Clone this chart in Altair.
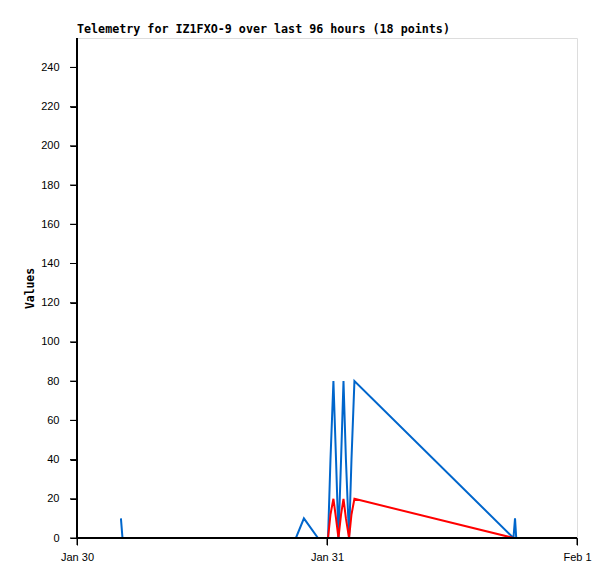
import altair as alt
import pandas as pd

# Timestamps (local time) of the telemetry points
times = [
    "2024-01-30T04:13", "2024-01-30T04:22", "2024-01-30T21:01", "2024-01-30T21:47",
    "2024-01-30T23:08", "2024-01-31T00:06", "2024-01-31T00:20", "2024-01-31T00:37",
    "2024-01-31T00:52", "2024-01-31T01:06", "2024-01-31T01:21", "2024-01-31T01:35",
    "2024-01-31T01:49", "2024-01-31T02:07", "2024-01-31T02:21", "2024-01-31T02:38",
    "2024-01-31T17:54", "2024-01-31T18:03", "2024-01-31T18:10",
]
blue_vals = [10, 0, 0, 10, 0, 0, 40, 80, 40, 0, 40, 80, 40, 0, 40, 80, 0, 10, 0]
red_vals = [0, 0, 0, 0, 0, 0, 12, 20, 10, 0, 12, 20, 10, 0, 12, 20, 0, 0, 0]
black_vals = [0] * len(times)

series_names = ["blue", "red", "black"]
series_colors = ["#0066cc", "#ff0000", "#000000"]
y_ticks = list(range(0, 241, 20))
x_ticks = ["2024-01-30T00:00", "2024-01-31T00:00", "2024-02-01T00:00"]

rows = []
for name, vals in zip(series_names, [blue_vals, red_vals, black_vals]):
    for t, v in zip(times, vals):
        rows.append({"time": t, "value": v, "series": name})
df = pd.DataFrame(rows)
ytick_df = pd.DataFrame({"value": y_ticks})
xtick_df = pd.DataFrame({"time": x_ticks})

x_scale = alt.Scale(domain=[alt.DateTime(year=2024, month=1, date=30),
                            alt.DateTime(year=2024, month=2, date=1)])
y_scale = alt.Scale(domain=[0, 255], nice=False)

common_axis = dict(
    grid=False,
    domain=True,
    ticks=True,
    tickSize=7,
    tickWidth=1,
    tickColor="#000000",
    domainColor="#000000",
    domainWidth=1,
    labelFont="Liberation Sans",
    labelFontSize=11,
    labelColor="#000000",
)

x_enc = alt.X(
    "time:T",
    scale=x_scale,
    axis=alt.Axis(
        title=None,
        values=[alt.DateTime(year=2024, month=1, date=30),
                alt.DateTime(year=2024, month=1, date=31),
                alt.DateTime(year=2024, month=2, date=1)],
        format="%b %-d",
        labelPadding=6,
        labelFlush=False,
        **common_axis,
    ),
)
y_enc = alt.Y(
    "value:Q",
    scale=y_scale,
    axis=alt.Axis(
        title="Values",
        values=y_ticks,
        labelPadding=11,
        titleFont="DejaVu Sans Mono",
        titleFontWeight="bold",
        titleFontSize=11.4,
        titleColor="#000000",
        titleX=-47,
        titleY=250,
        titleAlign="center",
        titleBaseline="middle",
        titleAngle=270,
        **common_axis,
    ),
)

base = alt.Chart(df)
layers = []
for name, col in zip(series_names, series_colors):
    layers.append(
        base.transform_filter(alt.datum.series == name)
        .mark_line(color=col, strokeWidth=2, clip=True)
        .encode(x=x_enc, y=y_enc)
    )

# explicit axis lines and ticks
y_tick_marks = alt.Chart(ytick_df).mark_rule(color="#000000", strokeWidth=1).encode(
    y=alt.Y("value:Q", scale=y_scale),
    x=alt.value(-7), x2=alt.value(0),
)
x_tick_marks = alt.Chart(xtick_df).mark_rule(color="#000000", strokeWidth=1).encode(
    x=alt.X("time:T", scale=x_scale),
    y=alt.value(500), y2=alt.value(507),
)
y_domain = alt.Chart(ytick_df).mark_rule(color="#000000", strokeWidth=1).encode(
    x=alt.value(0), y=alt.value(0), y2=alt.value(500),
)
x_domain = alt.Chart(ytick_df).mark_rule(color="#000000", strokeWidth=1).encode(
    x=alt.value(0), x2=alt.value(500), y=alt.value(500),
)

chart = alt.layer(*layers, y_tick_marks, x_tick_marks, y_domain, x_domain).properties(
    width=500,
    height=500,
    title=alt.TitleParams(
        "Telemetry for IZ1FXO-9 over last 96 hours (18 points)",
        anchor="start",
        frame="group",
        font="DejaVu Sans Mono",
        fontSize=11.7,
        fontWeight="bold",
        color="#000000",
        offset=2,
    ),
    autosize=alt.AutoSizeParams(type="none"),
    padding={"left": 69, "top": 30, "right": 30, "bottom": 33},
).configure_view(stroke="#555555", strokeWidth=1).configure(background="white")

chart.save("out.html", embed_options={"renderer": "svg", "actions": False})
